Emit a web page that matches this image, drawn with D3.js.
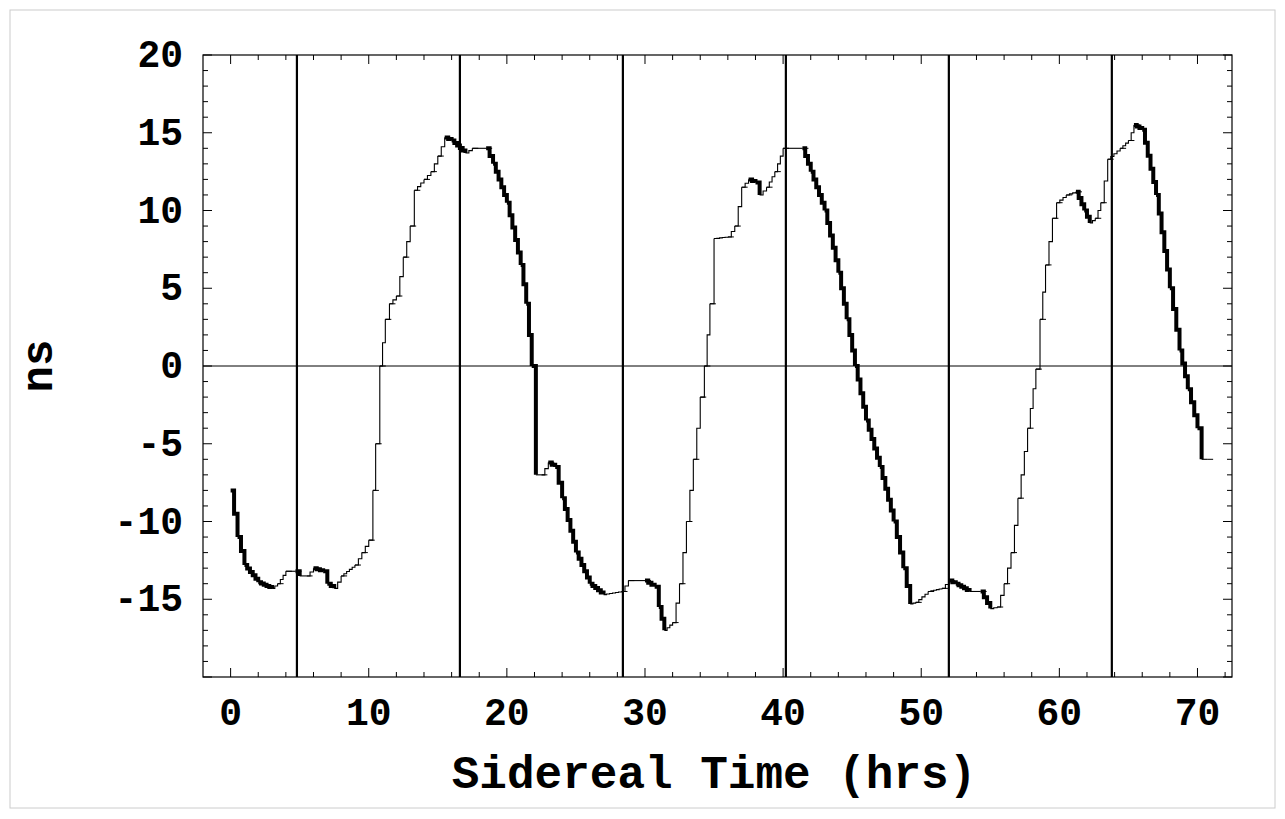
<!DOCTYPE html>
<html><head><meta charset="utf-8">
<script src="https://cdn.jsdelivr.net/npm/d3@7"></script>
<style>body{margin:0;background:#fff}</style></head>
<body><svg id="svg" width="1285" height="819"></svg>
<script>
// 時刻(hrs)と値(ns)
const hrs = [0,0.5,1,2,3,3.4,4,4.7,5,5.5,6,6.7,7,7.5,8,9,9.5,10,10.3,10.5,10.8,11.2,11.5,12,12.5,13,13.3,14,14.5,15,15.5,16,17,17.5,18.5,19,20,21,21.4,21.8,22.1,22.5,23,23.5,24,25,26,27,28.3,28.8,30,30.7,31,31.4,32,32.5,33,33.5,34,34.3,34.7,35,36,36.5,37,37.5,38,38.3,38.8,39.4,40,41.4,42,43,44,44.6,45.2,46,47,48,48.7,49.2,49.6,50.5,51.5,52,52.5,53.5,54.3,55,55.5,56,56.5,57,57.7,58.3,58.6,59,59.5,59.8,60.5,61.2,61.8,62.2,62.6,63,63.5,64.4,65,65.4,66,67,68,68.7,69.3,70,70.3,70.7];
const ns = [-8,-11,-12.8,-13.9,-14.3,-14,-13.2,-13.2,-13.5,-13.5,-13,-13.2,-14,-14.3,-13.5,-12.8,-12,-11.2,-8,-5,0,3,4,4.5,7,9,11.3,12,12.5,13.5,14.7,14.5,13.7,14,14,13,10.5,6.5,4,0,-7,-7,-6.2,-6.5,-8.5,-12,-14,-14.7,-14.5,-13.8,-13.8,-14.2,-15.5,-17,-16.5,-14,-10,-6,-2,0,4,8.2,8.3,9,11.5,12,11.8,11,11.5,12.5,14,14,12.5,10,6,3,0,-3.5,-6.5,-10,-13,-15.3,-15.2,-14.5,-14.3,-13.8,-14,-14.5,-14.5,-15.6,-15.5,-14,-12,-8.5,-4,-0.2,3,6.5,9.5,10.5,11,11.2,10,9.2,9.5,10.5,13.3,14,14.5,15.5,15.2,11,5,1,-1.5,-4,-6,-6];
const vlines = [4.8,16.6,28.4,40.2,52.0,63.8];
const xTicks = [0,10,20,30,40,50,60,70];
const yTicks = [-15,-10,-5,0,5,10,15,20];

const svg = d3.select("#svg");
const L = 203, R = 1232, T = 55, B = 677;
const x = d3.scaleLinear().domain([-2, 72.5]).range([L, R]);
const y = d3.scaleLinear().domain([-20, 20]).range([B, T]);
const font = "'Liberation Mono', 'DejaVu Sans Mono', monospace";

// 外枠
svg.append("rect").attr("x", 10).attr("y", 10).attr("width", 1265).attr("height", 798)
  .attr("fill", "none").attr("stroke", "#ccc");
svg.append("rect").attr("x", L).attr("y", T).attr("width", R - L).attr("height", B - T)
  .attr("fill", "none").attr("stroke", "#000").attr("stroke-width", 1.2);

// 目盛り（四辺）
for (let v = -20; v <= 20; v++) {
  const len = v % 5 === 0 ? 9 : 5;
  svg.append("line").attr("x1", L).attr("x2", L + len).attr("y1", y(v)).attr("y2", y(v)).attr("stroke", "#000");
  svg.append("line").attr("x1", R).attr("x2", R - len).attr("y1", y(v)).attr("y2", y(v)).attr("stroke", "#000");
}
for (let v = 0; v <= 72; v += 2) {
  const len = v % 10 === 0 ? 9 : 5;
  svg.append("line").attr("y1", B).attr("y2", B - len).attr("x1", x(v)).attr("x2", x(v)).attr("stroke", "#000");
  svg.append("line").attr("y1", T).attr("y2", T + len).attr("x1", x(v)).attr("x2", x(v)).attr("stroke", "#000");
}

// ラベル
svg.selectAll(".yl").data(yTicks).join("text")
  .attr("x", L - 20).attr("y", d => y(d) + 12).attr("text-anchor", "end")
  .attr("font-family", font).attr("font-weight", "bold").attr("font-size", 38).text(d => d);
svg.selectAll(".xl").data(xTicks).join("text")
  .attr("x", d => x(d)).attr("y", B + 48).attr("text-anchor", "middle")
  .attr("font-family", font).attr("font-weight", "bold").attr("font-size", 38).text(d => d);
svg.append("text").attr("x", 714).attr("y", 788).attr("text-anchor", "middle")
  .attr("font-family", font).attr("font-weight", "bold").attr("font-size", 46).text("Sidereal Time (hrs)");
svg.append("text").attr("transform", `translate(52,${y(0)}) rotate(-90)`).attr("text-anchor", "middle")
  .attr("font-family", font).attr("font-weight", "bold").attr("font-size", 44).text("ns");

// ゼロ線と縦線
svg.append("line").attr("x1", L).attr("x2", R).attr("y1", y(0)).attr("y2", y(0)).attr("stroke", "#000");
svg.selectAll(".vl").data(vlines).join("line")
  .attr("x1", d => x(d)).attr("x2", d => x(d)).attr("y1", T).attr("y2", B)
  .attr("stroke", "#000").attr("stroke-width", 2.2);

// データ（下降区間は太線、上昇区間は細線＋小さな刻み）
for (let i = 0; i < hrs.length - 1; i++) {
  const x0 = x(hrs[i]), x1 = x(hrs[i + 1]), y0 = y(ns[i]), y1 = y(ns[i + 1]);
  const down = ns[i + 1] < ns[i];
  const steps = Math.max(1, Math.round(Math.abs(x1 - x0) / 3));
  let d = `M ${x0} ${y0}`;
  for (let k = 1; k <= steps; k++) {
    const xs = x0 + (x1 - x0) * k / steps, ys = y0 + (y1 - y0) * k / steps;
    d += ` H ${xs} V ${ys}`;
  }
  svg.append("path").attr("d", d).attr("fill", "none").attr("stroke", "#000")
    .attr("stroke-width", down ? 4 : 1.1);
  if (!down) {
    svg.append("line").attr("x1", x1).attr("x2", x1 + 6).attr("y1", y1).attr("y2", y1)
      .attr("stroke", "#000").attr("stroke-width", 1);
  }
}
</script></body></html>
